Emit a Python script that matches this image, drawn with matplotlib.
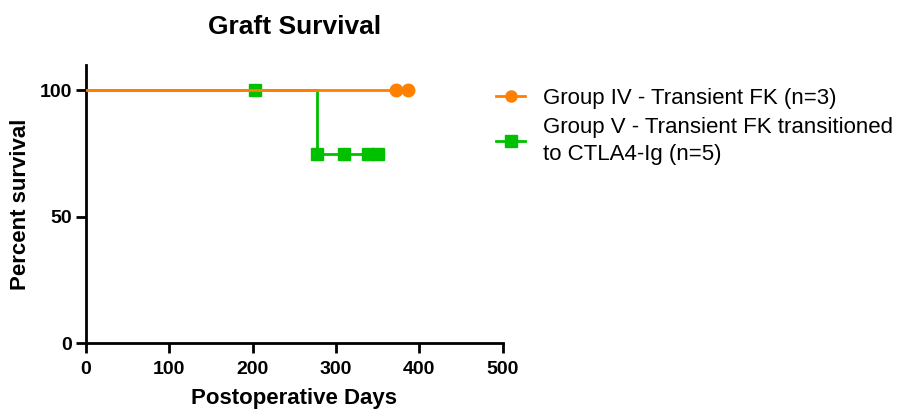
import numpy as np
from matplotlib import pyplot as plt

plt.rcParams['font.family'] = ['Liberation Sans', 'DejaVu Sans']

# Group IV - step curve and censored marks
g4_days = [0, 387]
g4_surv = [100, 100]
g4_cens_days = [372, 387]
g4_cens_surv = [100, 100]

# Group V - step curve and marks
g5_days = [0, 277, 277, 351]
g5_surv = [100, 100, 75, 75]
g5_mark_days = [203, 277, 310, 338, 351]
g5_mark_surv = [100, 75, 75, 75, 75]

orange = '#FF8000'
green = '#00C000'

fig = plt.figure(figsize=(9.04, 4.09), dpi=100)
ax = fig.add_axes([0.095, 0.161, 0.461, 0.68])

ax.plot(g5_days, g5_surv, color=green, lw=2, zorder=2)
ax.plot(g5_mark_days, g5_mark_surv, ls='none', marker='s', ms=9,
        color=green, zorder=3)
ax.plot(g4_days, g4_surv, color=orange, lw=2, zorder=4)
ax.plot(g4_cens_days, g4_cens_surv, ls='none', marker='o', ms=9,
        color=orange, zorder=5)

# legend proxies
h1, = ax.plot([], [], color=orange, lw=2, marker='o', ms=8)
h2, = ax.plot([], [], color=green, lw=2, marker='s', ms=8)
leg = fig.legend([h1, h2],
                 ['Group IV - Transient FK (n=3)',
                  'Group V - Transient FK transitioned\nto CTLA4-Ig (n=5)'],
                 loc='upper left', bbox_to_anchor=(0.549, 0.785), frameon=False,
                 fontsize=16, handlelength=1.3, handletextpad=0.8,
                 labelspacing=0.35, borderpad=0, borderaxespad=0)
for t in leg.get_texts():
    t.set_linespacing(1.4)

ax.set_xlim(0, 500)
ax.set_ylim(0, 110)
ax.set_xticks([0, 100, 200, 300, 400, 500])
ax.set_yticks([0, 50, 100])
for s in ['top', 'right']:
    ax.spines[s].set_visible(False)
for s in ['left', 'bottom']:
    ax.spines[s].set_linewidth(2)
ax.tick_params(width=2, length=7, labelsize=14)
ax.tick_params(axis='x', pad=6)
ax.tick_params(axis='y', pad=3)
for lab in ax.get_xticklabels() + ax.get_yticklabels():
    lab.set_fontweight('bold')

ax.set_xlabel('Postoperative Days', fontsize=16, fontweight='bold', labelpad=7)
ax.set_ylabel('Percent survival', fontsize=16, fontweight='bold', labelpad=6)
ax.set_title('Graft Survival', fontsize=19, fontweight='bold', pad=22)

fig.savefig('out.png', dpi=100)
